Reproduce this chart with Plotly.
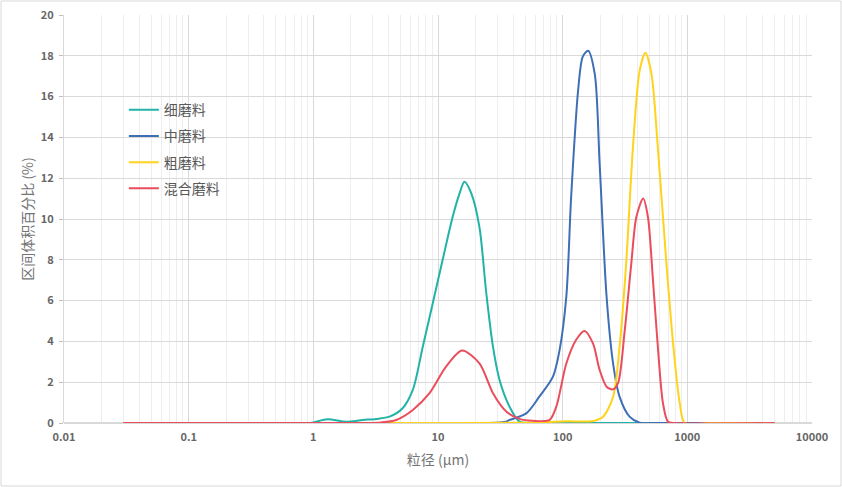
import plotly.graph_objects as go

# particle size (um) and interval volume percent (%)
fine_x = [0.03, 0.5, 0.9, 1.0, 1.3, 1.83, 2.49, 3.2, 4.08, 5.2, 6.28, 7.55, 9.08, 10.9, 13.1, 14.9, 16.3,
          18.5, 21.5, 24.4, 27.6, 31.2, 37.5, 45, 60, 200, 1000, 5000]
fine_y = [0, 0, 0, 0.03, 0.18, 0.06, 0.15, 0.2, 0.31, 0.72, 1.62, 3.74, 5.87, 8.0, 10.1, 11.26, 11.83,
          11.26, 9.6, 6.36, 3.74, 2.1, 0.8, 0.07, 0, 0, 0, 0]

medium_x = [0.03, 1, 10, 25, 35, 37.5, 51, 65, 83.6, 94.5, 107, 117, 133, 145, 160, 181, 198, 225, 254,
            286, 344, 415, 600, 1000, 5000]
medium_y = [0, 0, 0, 0, 0.06, 0.15, 0.47, 1.29, 2.27, 3.58, 6.2, 11.1, 16.3, 17.96, 18.25, 17.1, 12.7, 6.2, 2.9,
            1.29, 0.31, 0.02, 0, 0, 0]

coarse_x = [0.03, 1, 10, 60, 107, 175, 211, 254, 286, 323, 366, 415, 462, 516, 580, 680, 773, 870, 955,
            1500, 5000]
coarse_y = [0, 0, 0, 0.02, 0.08, 0.1, 0.31, 1.29, 3.74, 7.8, 13.5, 17.3, 18.15, 17.1, 13.5, 7.8, 3.74, 0.96, 0,
            0, 0]

mixed_x = [0.03, 1, 2.5, 3.5, 4.62, 6.28, 8.55, 11.6, 15.6, 21.5, 27.6, 35.3, 45, 57.7, 78.6, 88.9, 107, 128,
           150, 175, 198, 225, 254, 278, 315, 355, 390, 442, 483, 530, 580, 638, 700, 800, 5000]
mixed_y = [0, 0, 0, 0.03, 0.15, 0.64, 1.46, 2.76, 3.55, 2.92, 1.46, 0.56, 0.2, 0.11, 0.15, 0.8, 2.92, 4.07,
           4.51, 3.9, 2.6, 1.78, 1.65, 1.95, 4.56, 7.8, 10.1, 11.0, 10.1, 7.0, 3.74, 0.96, 0.06, 0, 0]

names = ["细磨料", "中磨料", "粗磨料", "混合磨料"]
colors = ["#21B3A6", "#3E6FB6", "#FFD31A", "#EA4D5B"]
x_ticks = [0.01, 0.1, 1, 10, 100, 1000, 10000]
x_tick_text = ["0.01", "0.1", "1", "10", "100", "1000", "10000"]

fig = go.Figure()
for name, xs, ys, c in zip(names, [fine_x, medium_x, coarse_x, mixed_x],
                           [fine_y, medium_y, coarse_y, mixed_y], colors):
    fig.add_trace(go.Scatter(x=xs, y=ys, name=name, mode="lines", legendgroup=name,
                             line=dict(color=c, width=2, shape="spline", smoothing=0.8)))

font_main = "Noto Sans CJK SC"
tick_font = dict(size=11, color="#666666", family=font_main, weight=600)
fig.update_layout(
    width=842, height=487,
    margin=dict(l=64, r=30, t=15, b=64, autoexpand=False),
    paper_bgcolor="white", plot_bgcolor="white",
    font=dict(family=font_main, color="#595959"),
    legend=dict(x=0.08, y=0.806, xanchor="left", yanchor="top", bgcolor="rgba(0,0,0,0)",
                font=dict(size=14, color="#595959"), traceorder="grouped",
                tracegroupgap=5, itemwidth=30),
    showlegend=True,
)
fig.update_xaxes(
    type="log", range=[-2, 4],
    tickvals=x_ticks, ticktext=x_tick_text, tickfont=tick_font,
    ticklabelstandoff=6,
    showgrid=True, gridcolor="#D9D9D9", gridwidth=1,
    minor=dict(showgrid=True, gridcolor="#EEEEEE", dtick="D1"),
    zeroline=False, showline=False, ticks="",
    title=dict(text="粒径 (μm)", font=dict(size=14, color="#757575"), standoff=12),
)
fig.update_yaxes(
    range=[0, 20], dtick=2, tickfont=tick_font,
    showgrid=True, gridcolor="#D9D9D9", gridwidth=1,
    zeroline=True, zerolinecolor="#D9D9D9",
    showline=True, linecolor="#D9D9D9",
    ticks="outside", ticklen=4, tickcolor="#BFBFBF", ticklabelstandoff=3,
    title=dict(text="区间体积百分比 (%)", font=dict(size=14, color="#757575"), standoff=3),
)
# outer chart border
fig.add_shape(type="rect", xref="paper", yref="paper",
              x0=-63 / 748, x1=777 / 748, y0=-63 / 408, y1=422 / 408,
              line=dict(color="#D9D9D9", width=1), fillcolor="rgba(0,0,0,0)")

fig.write_html("out.html", config={"displayModeBar": False},
               post_script="document.body.style.margin='0';")
